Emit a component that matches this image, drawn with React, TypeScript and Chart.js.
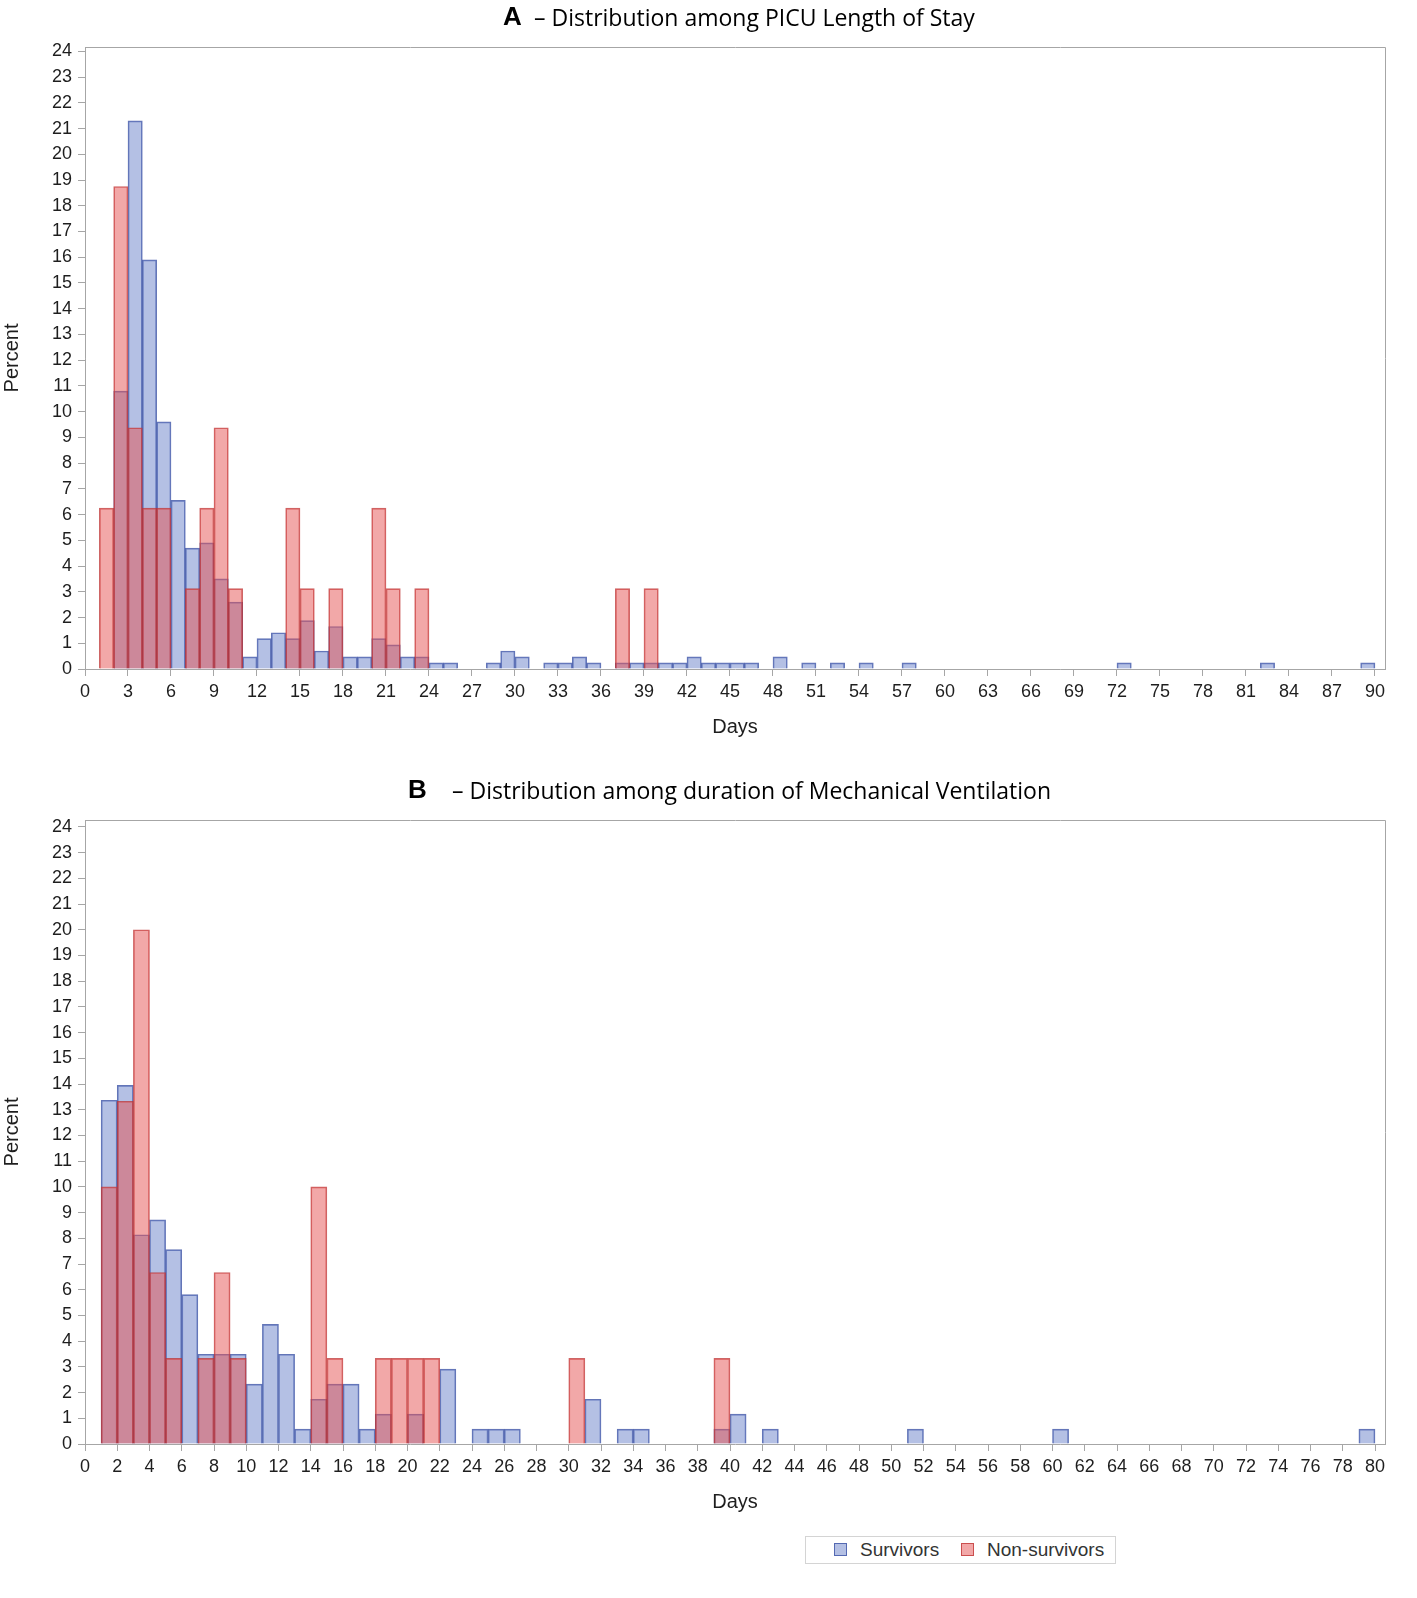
import React, { useEffect, useRef } from "react";
import { Chart, registerables } from "chart.js";

Chart.register(...registerables);

// ---------- Panel A : PICU length of stay (bin start day -> percent) ----------
const losSurvivorDays = [2, 3, 4, 5, 6, 7, 8, 9, 10, 11, 12, 13, 14, 15, 16, 17, 18, 19, 20, 21, 22, 23, 24, 25, 28, 29, 30, 32, 33, 34, 35, 37, 38, 39, 40, 41, 42, 43, 44, 45, 46, 48, 50, 52, 54, 57, 72, 82, 89];
const losSurvivorPct = [10.8, 21.3, 15.9, 9.6, 6.55, 4.7, 4.9, 3.5, 2.6, 0.47, 1.18, 1.41, 1.18, 1.88, 0.7, 1.65, 0.47, 0.47, 1.18, 0.94, 0.47, 0.47, 0.24, 0.24, 0.24, 0.7, 0.47, 0.24, 0.24, 0.47, 0.24, 0.24, 0.24, 0.24, 0.24, 0.24, 0.47, 0.24, 0.24, 0.24, 0.24, 0.47, 0.24, 0.24, 0.24, 0.24, 0.24, 0.24, 0.24];
const losNonSurvivorDays = [1, 2, 3, 4, 5, 7, 8, 9, 10, 14, 15, 17, 20, 21, 23, 37, 39];
const losNonSurvivorPct = [6.25, 18.75, 9.375, 6.25, 6.25, 3.125, 6.25, 9.375, 3.125, 6.25, 3.125, 3.125, 6.25, 3.125, 3.125, 3.125, 3.125];
const losDayTicks = [0, 3, 6, 9, 12, 15, 18, 21, 24, 27, 30, 33, 36, 39, 42, 45, 48, 51, 54, 57, 60, 63, 66, 69, 72, 75, 78, 81, 84, 87, 90];

// ---------- Panel B : duration of mechanical ventilation ----------
const mvSurvivorDays = [1, 2, 3, 4, 5, 6, 7, 8, 9, 10, 11, 12, 13, 14, 15, 16, 17, 18, 20, 22, 24, 25, 26, 31, 33, 34, 39, 40, 42, 51, 60, 79];
const mvSurvivorPct = [13.37, 13.95, 8.14, 8.72, 7.56, 5.81, 3.49, 3.49, 3.49, 2.33, 4.65, 3.49, 0.58, 1.74, 2.33, 2.33, 0.58, 1.16, 1.16, 2.91, 0.58, 0.58, 0.58, 1.74, 0.58, 0.58, 0.58, 1.16, 0.58, 0.58, 0.58, 0.58];
const mvNonSurvivorDays = [1, 2, 3, 4, 5, 7, 8, 9, 14, 15, 18, 19, 20, 21, 30, 39];
const mvNonSurvivorPct = [10, 13.33, 20, 6.67, 3.33, 3.33, 6.67, 3.33, 10, 3.33, 3.33, 3.33, 3.33, 3.33, 3.33, 3.33];
const mvDayTicks = [0, 2, 4, 6, 8, 10, 12, 14, 16, 18, 20, 22, 24, 26, 28, 30, 32, 34, 36, 38, 40, 42, 44, 46, 48, 50, 52, 54, 56, 58, 60, 62, 64, 66, 68, 70, 72, 74, 76, 78, 80];

const percentTicks = [0, 1, 2, 3, 4, 5, 6, 7, 8, 9, 10, 11, 12, 13, 14, 15, 16, 17, 18, 19, 20, 21, 22, 23, 24];

const seriesNames = ["Survivors", "Non-survivors"];

const BLUE_FILL = "rgba(105,129,201,0.5)";
const BLUE_LINE = "rgba(60,82,165,0.8)";
const RED_FILL = "rgba(229,81,81,0.5)";
const RED_LINE = "rgba(190,50,50,0.75)";
const AXIS_GREY = "#a6a6a6";
const TEXT = "#1e1e1e";

const toBins = (days: number[], pct: number[]) =>
  days.map((d, i) => ({ x: d + 0.5, y: pct[i] }));

const framePlugin = {
  id: "frame",
  afterDraw(chart: any) {
    const { ctx, chartArea } = chart;
    const { left, right, top, bottom } = chartArea;
    ctx.save();
    ctx.strokeStyle = AXIS_GREY;
    ctx.lineWidth = 1;
    ctx.beginPath();
    ctx.moveTo(Math.round(left) + 0.5, Math.round(bottom) + 0.5);
    ctx.lineTo(Math.round(left) + 0.5, Math.round(top) + 0.5);
    ctx.lineTo(Math.round(right) + 0.5, Math.round(top) + 0.5);
    ctx.lineTo(Math.round(right) + 0.5, Math.round(bottom) + 0.5);
    ctx.stroke();
    ctx.restore();
  },
};

const makeTitlePlugin = (letter: string, rest: string, letterX: number, restX: number, cy: number) => ({
  id: "panelTitle",
  afterDraw(chart: any) {
    const { ctx } = chart;
    ctx.save();
    ctx.textBaseline = "middle";
    ctx.textAlign = "left";
    ctx.fillStyle = "#000";
    ctx.font = 'bold 26px "Liberation Sans", Arial, sans-serif';
    ctx.fillText(letter, letterX, cy);
    ctx.font = '23px "Open Sans", sans-serif';
    ctx.fillText(rest, restX, cy + 1);
    ctx.restore();
  },
});

type PanelProps = {
  survivors: { x: number; y: number }[];
  nonSurvivors: { x: number; y: number }[];
  xTicks: number[];
  xMax: number;
  yMax: number;
  letter: string;
  rest: string;
  letterX: number;
  restX: number;
  titleY: number;
  top: number;
  padTop: number;
  xAxisHeight: number;
  xTitleBottom: number;
  height: number;
};

function Panel(p: PanelProps) {
  const ref = useRef<HTMLCanvasElement | null>(null);
  useEffect(() => {
    if (!ref.current) return;
    const chart = new Chart(ref.current, {
      type: "bar",
      data: {
        datasets: [
          {
            label: seriesNames[0],
            data: p.survivors,
            backgroundColor: BLUE_FILL,
            borderColor: BLUE_LINE,
            borderWidth: 1,
            barPercentage: 1,
            categoryPercentage: 1,
            grouped: false,
            order: 2,
          } as any,
          {
            label: seriesNames[1],
            data: p.nonSurvivors,
            backgroundColor: RED_FILL,
            borderColor: RED_LINE,
            borderWidth: 1,
            barPercentage: 1,
            categoryPercentage: 1,
            grouped: false,
            order: 1,
          } as any,
        ],
      },
      options: {
        animation: false,
        responsive: false,
        maintainAspectRatio: false,
        layout: { padding: { top: p.padTop, right: 32, left: 0, bottom: 0 } },
        plugins: {
          legend: { display: false },
          tooltip: { enabled: false },
          title: { display: false },
        },
        scales: {
          x: {
            type: "linear",
            min: 0,
            max: p.xMax,
            offset: false,
            grid: {
              display: true,
              drawOnChartArea: false,
              drawTicks: true,
              tickLength: 7,
              color: AXIS_GREY,
              offset: false,
            },
            border: { display: true, color: AXIS_GREY, width: 1 },
            ticks: {
              color: TEXT,
              font: { family: '"Liberation Sans", Arial, sans-serif', size: 18 },
              padding: 5,
              maxRotation: 0,
              autoSkip: false,
            },
            afterBuildTicks: (s: any) => {
              s.ticks = p.xTicks.map((v) => ({ value: v }));
            },
            afterFit: (s: any) => {
              s.height = p.xAxisHeight;
            },
            title: {
              display: true,
              text: "Days",
              color: TEXT,
              font: { family: '"Liberation Sans", Arial, sans-serif', size: 20 },
              padding: { top: 0, bottom: p.xTitleBottom },
            },
          } as any,
          y: {
            type: "linear",
            min: 0,
            max: p.yMax,
            grid: {
              display: true,
              drawOnChartArea: false,
              drawTicks: true,
              tickLength: 7,
              color: AXIS_GREY,
            },
            border: { display: true, color: AXIS_GREY, width: 1 },
            ticks: {
              color: TEXT,
              font: { family: '"Liberation Sans", Arial, sans-serif', size: 18 },
              padding: 6,
              autoSkip: false,
            },
            afterBuildTicks: (s: any) => {
              s.ticks = percentTicks.map((v) => ({ value: v }));
            },
            afterFit: (s: any) => {
              s.width = 85;
            },
            title: {
              display: true,
              text: "Percent",
              color: TEXT,
              font: { family: '"Liberation Sans", Arial, sans-serif', size: 20 },
              padding: { top: 0, bottom: 0 },
            },
          } as any,
        },
      },
      plugins: [framePlugin, makeTitlePlugin(p.letter, p.rest, p.letterX, p.restX, p.titleY)],
    });
    return () => chart.destroy();
  }, []);
  return (
    <canvas
      ref={ref}
      width={1417}
      height={p.height}
      style={{ position: "absolute", left: 0, top: p.top, width: 1417, height: p.height }}
    />
  );
}

export default function App() {
  return (
    <div
      style={{
        position: "absolute",
        left: 0,
        top: 0,
        width: 1417,
        height: 1598,
        background: "#fff",
        overflow: "hidden",
      }}
    >
      <Panel
        survivors={toBins(losSurvivorDays, losSurvivorPct)}
        nonSurvivors={toBins(losNonSurvivorDays, losNonSurvivorPct)}
        xTicks={losDayTicks}
        xMax={90.7}
        yMax={24.17}
        letter="A"
        rest="– Distribution among PICU Length of Stay"
        letterX={503}
        restX={534}
        titleY={18}
        top={0}
        padTop={47}
        xAxisHeight={91}
        xTitleBottom={21}
        height={760}
      />
      <Panel
        survivors={toBins(mvSurvivorDays, mvSurvivorPct)}
        nonSurvivors={toBins(mvNonSurvivorDays, mvNonSurvivorPct)}
        xTicks={mvDayTicks}
        xMax={80.62}
        yMax={24.27}
        letter="B"
        rest="– Distribution among duration of Mechanical Ventilation"
        letterX={408}
        restX={452}
        titleY={17}
        top={774}
        padTop={46}
        xAxisHeight={90}
        xTitleBottom={20}
        height={760}
      />
      <div
        style={{
          position: "absolute",
          left: 805,
          top: 1536,
          width: 311,
          height: 28,
          boxSizing: "border-box",
          border: "1px solid #d4d4d4",
          fontFamily: '"Liberation Sans", Arial, sans-serif',
          fontSize: 19,
          color: "#333",
        }}
      >
        <span
          style={{
            position: "absolute",
            left: 28,
            top: 6,
            width: 13,
            height: 13,
            boxSizing: "border-box",
            background: BLUE_FILL,
            border: "1px solid " + BLUE_LINE,
          }}
        />
        <span style={{ position: "absolute", left: 54, top: 2, lineHeight: "22px" }}>{seriesNames[0]}</span>
        <span
          style={{
            position: "absolute",
            left: 155,
            top: 6,
            width: 13,
            height: 13,
            boxSizing: "border-box",
            background: RED_FILL,
            border: "1px solid " + RED_LINE,
          }}
        />
        <span style={{ position: "absolute", left: 181, top: 2, lineHeight: "22px" }}>{seriesNames[1]}</span>
      </div>
    </div>
  );
}
